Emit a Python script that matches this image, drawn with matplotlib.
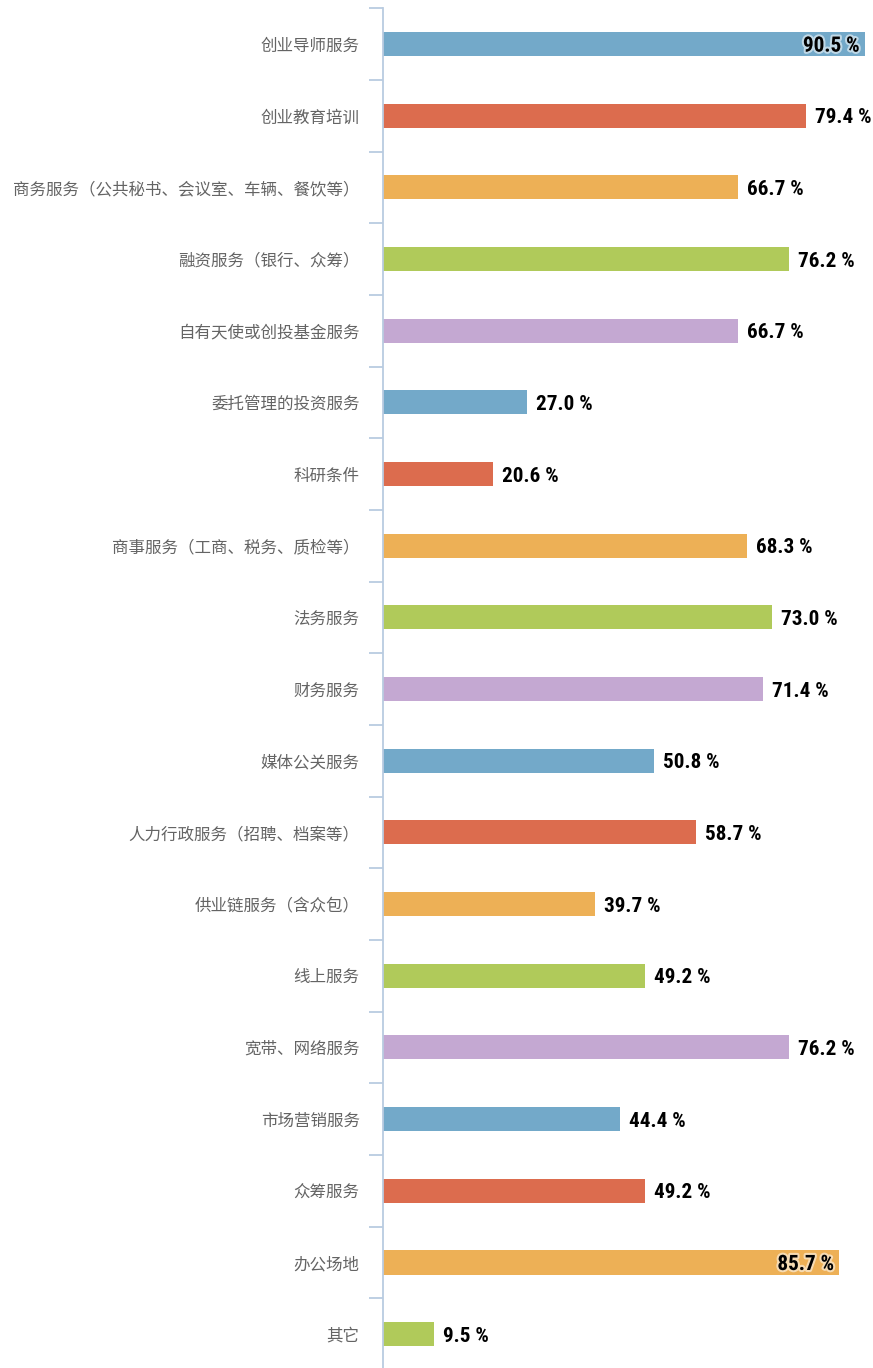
import matplotlib
matplotlib.use("Agg")
import matplotlib.pyplot as plt
import matplotlib.patheffects as pe
from matplotlib import font_manager as fm
from matplotlib.textpath import TextPath
import numpy as np

categories = [
    "创业导师服务",
    "创业教育培训",
    "商务服务（公共秘书、会议室、车辆、餐饮等）",
    "融资服务（银行、众筹）",
    "自有天使或创投基金服务",
    "委托管理的投资服务",
    "科研条件",
    "商事服务（工商、税务、质检等）",
    "法务服务",
    "财务服务",
    "媒体公关服务",
    "人力行政服务（招聘、档案等）",
    "供业链服务（含众包）",
    "线上服务",
    "宽带、网络服务",
    "市场营销服务",
    "众筹服务",
    "办公场地",
    "其它",
]
values = [90.5, 79.4, 66.7, 76.2, 66.7, 27.0, 20.6, 68.3, 73.0, 71.4,
          50.8, 58.7, 39.7, 49.2, 76.2, 44.4, 49.2, 85.7, 9.5]
palette = ["#73A9C9", "#DC6C4E", "#EDB056", "#B0CA5A", "#C4A8D2"]

plt.rcParams['font.family'] = ['Noto Sans CJK SC', 'DejaVu Sans']


def pick_condensed_bold():
    prefs = ["liberation sans narrow", "roboto condensed", "open sans condensed",
             "dejavu sans condensed", "noto sans condensed"]
    entries = fm.fontManager.ttflist
    for p in prefs:
        for e in entries:
            full = (e.name + " " + str(e.stretch) + " " + e.fname).lower()
            w = e.weight if isinstance(e.weight, int) else 400
            if isinstance(e.weight, str):
                w = 700 if "bold" in e.weight else 400
            bold = w >= 600 or "bold" in e.fname.lower()
            cond = ("condensed" in full or "narrow" in full)
            if p.split()[0] in full and cond and bold and "italic" not in e.fname.lower() \
                    and "oblique" not in e.fname.lower():
                return fm.FontProperties(fname=e.fname)
    for e in entries:
        fl = e.fname.lower()
        if ("condensed" in fl or "narrow" in fl) and "bold" in fl and "italic" not in fl and "oblique" not in fl:
            return fm.FontProperties(fname=e.fname)
    return fm.FontProperties(family="DejaVu Sans", weight="bold")


val_fp = pick_condensed_bold()
tp = TextPath((0, 0), "27.0 %", size=10, prop=val_fp)
wpx10 = tp.get_extents().width * 100 / 72
val_size = min(15.5, 10 * 55 / wpx10)
val_fp.set_size(val_size)

W, H = 873, 1368
fig = plt.figure(figsize=(W / 100, H / 100), dpi=100)
ax_left = 383.3 / W
ax_top = 1 - 8.3 / H
ax_bottom = 1 - 1370.0 / H
ax = fig.add_axes([ax_left, ax_bottom, 1 - ax_left, ax_top - ax_bottom])

n = len(categories)
y = np.arange(n)
colors = [palette[i % len(palette)] for i in range(n)]
ax.barh(y, values, height=0.335, color=colors, edgecolor="none", zorder=2)

xmax = (W - 383.3) / 5.32
ax.set_xlim(0, xmax)
ax.set_ylim(n - 0.5, -0.5)

axis_color = "#B9CBE0"
for s in ["top", "right", "bottom"]:
    ax.spines[s].set_visible(False)
ax.spines["left"].set_color(axis_color)
ax.spines["left"].set_linewidth(1.3)
ax.set_xticks([])

ax.set_yticks(y)
ax.set_yticklabels(categories, fontsize=11.9, color="#646464")
ax.tick_params(axis="y", which="major", length=0, pad=17)
ax.set_yticks(np.arange(-0.5, n + 0.5, 1), minor=True)
ax.tick_params(axis="y", which="minor", length=10.2, width=1.3, color=axis_color, direction="out")

for yi, v in zip(y, values):
    txt = f"{v:.1f} %"
    if v > 80:
        ax.text(v - 1.0, yi, txt, ha="right", va="center_baseline", color="black",
                path_effects=[pe.withStroke(linewidth=3, foreground="white", alpha=0.55)],
                zorder=3, fontproperties=val_fp)
    else:
        ax.text(v + 1.7, yi, txt, ha="left", va="center_baseline", color="black", zorder=3,
                fontproperties=val_fp)

fig.savefig("out.png", dpi=100)
